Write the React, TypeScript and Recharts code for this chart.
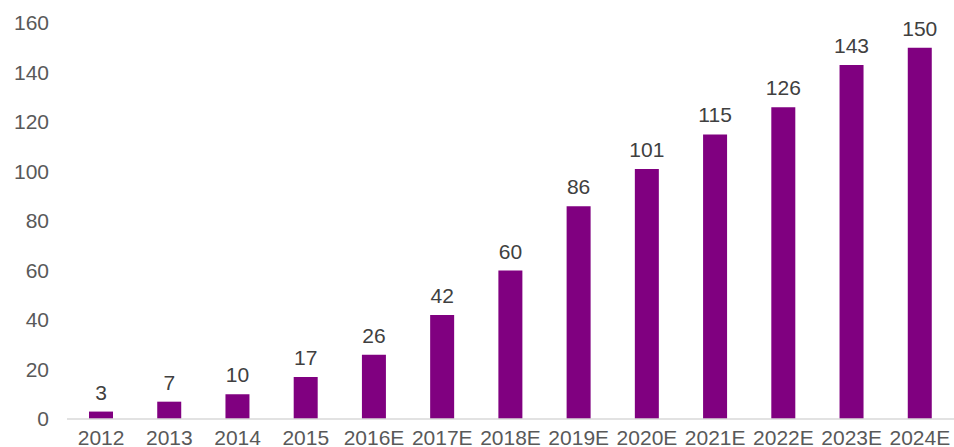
import { BarChart, Bar, XAxis, YAxis, LabelList } from "recharts";

const years = [
  "2012", "2013", "2014", "2015", "2016E", "2017E", "2018E",
  "2019E", "2020E", "2021E", "2022E", "2023E", "2024E",
];
const values = [3, 7, 10, 17, 26, 42, 60, 86, 101, 115, 126, 143, 150];
const yTicks = [0, 20, 40, 60, 80, 100, 120, 140, 160];
const bandTicks = [0, 1, 2, 3, 4, 5, 6, 7, 8, 9, 10, 11, 12, 13];

const data = years.map((year, i) => ({ year, value: values[i] }));

const font = "'Liberation Sans', Arial, sans-serif";
const textGray = "#595959";

export default function App() {
  return (
    <div style={{ position: "absolute", left: 0, top: 0, fontFamily: font }}>
      <BarChart
        width={954}
        height={447}
        data={data}
        margin={{ top: 23, right: 0, left: 0, bottom: 0 }}
      >
        <XAxis
          dataKey="year"
          height={28}
          axisLine={{ stroke: "#d9d9d9", strokeWidth: 1.5 }}
          tickLine={false}
          tickSize={0}
          tickMargin={11}
          interval={0}
          tick={{ fill: textGray, fontSize: 21, fontFamily: font }}
        />
        <XAxis
          xAxisId="bands"
          type="number"
          domain={[0, 13]}
          ticks={bandTicks}
          allowDataOverflow
          mirror
          height={0}
          axisLine={false}
          tickSize={4}
          tickLine={{ stroke: "#d9d9d9" }}
          tickFormatter={() => ""}
        />
        <YAxis
          width={67}
          domain={[0, 160]}
          ticks={yTicks}
          axisLine={false}
          tickLine={false}
          tickSize={0}
          tickMargin={18}
          tick={{ fill: textGray, fontSize: 21, fontFamily: font }}
        />
        <Bar dataKey="value" fill="#800080" barSize={24} isAnimationActive={false}>
          <LabelList
            dataKey="value"
            position="top"
            offset={12}
            fill="#404040"
            fontSize={21}
            fontFamily={font}
          />
        </Bar>
      </BarChart>
    </div>
  );
}
